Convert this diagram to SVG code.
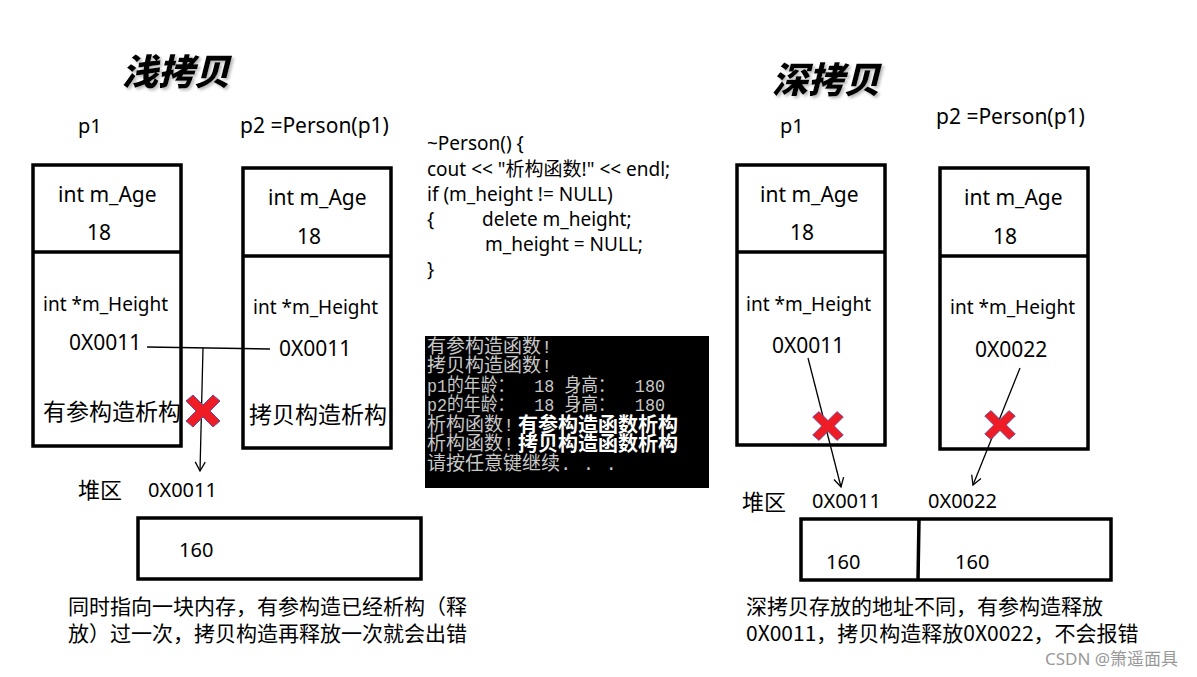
<svg xmlns="http://www.w3.org/2000/svg" width="1197" height="677" viewBox="0 0 1197 677">
<defs>
<style>
.t{font-family:"Noto Sans","Noto Sans CJK SC",sans-serif;fill:#000}
.c{font-family:"Noto Sans CJK SC","Noto Sans",sans-serif;fill:#000}
.box{fill:#fff;stroke:#000;stroke-width:3.5}
.div{stroke:#000;stroke-width:3.5}
.title{font-family:"Noto Sans CJK SC",sans-serif;font-weight:900;font-style:italic;font-size:36px;fill:#000}
.con{font-family:"Liberation Mono","Noto Sans CJK SC",monospace;font-size:19px;fill:#c8c8c8}
.ov{font-family:"Noto Sans CJK SC",sans-serif;font-size:20px;font-weight:700;fill:#fff}
.ln{stroke:#000;stroke-width:1.3;fill:none}
.x{fill:#ee1c25;stroke:#6a4c9c;stroke-width:1}
</style>
<marker id="arr" markerWidth="12" markerHeight="12" refX="10" refY="6" orient="auto" markerUnits="userSpaceOnUse">
<path d="M1,1 L10,6 L1,11" fill="none" stroke="#000" stroke-width="1.3"/>
</marker>
<filter id="sh" x="-10%" y="-10%" width="130%" height="140%">
<feDropShadow dx="2" dy="2" stdDeviation="1.5" flood-color="#888" flood-opacity="0.6"/>
</filter>
<path id="xs" d="M-17,-10 L-10,-16 L0,-6 L10,-16 L17,-10 L7,0 L17,10 L10,16 L0,6 L-10,16 L-17,10 L-7,0 Z"/>
</defs>
<rect width="1197" height="677" fill="#fff"/>

<!-- Shallow copy -->
<g id="title-shallow"><text class="title" x="122" y="85" filter="url(#sh)">浅拷贝</text></g>

<g id="p1-shallow">
<text class="t" x="78" y="133" font-size="20">p1</text>
<rect class="box" x="33" y="165" width="148" height="281"/>
<line class="div" x1="33" y1="252" x2="181" y2="252"/>
<text class="t" x="58" y="202" font-size="21">int m_Age</text>
<text class="t" x="87" y="240" font-size="21">18</text>
<text class="t" x="43" y="311" font-size="19">int *m_Height</text>
<text class="t" x="69" y="350" font-size="21">0X0011</text>
<text class="c" x="43" y="420" font-size="23">有参构造析构</text>
</g>

<g id="p2-shallow">
<text class="t" x="240" y="133" font-size="21">p2 =Person(p1)</text>
<rect class="box" x="243" y="168" width="148" height="280"/>
<line class="div" x1="243" y1="256" x2="391" y2="256"/>
<text class="t" x="268" y="205" font-size="21">int m_Age</text>
<text class="t" x="297" y="244" font-size="21">18</text>
<text class="t" x="253" y="314" font-size="19">int *m_Height</text>
<text class="t" x="279" y="356" font-size="21">0X0011</text>
<text class="c" x="249" y="423" font-size="23">拷贝构造析构</text>
</g>

<g id="heap-shallow">
<text class="c" x="78" y="498" font-size="22">堆区</text>
<text class="t" x="148" y="497" font-size="20">0X0011</text>
<rect class="box" x="138" y="518" width="283" height="61"/>
<text class="t" x="179" y="557" font-size="20">160</text>
</g>

<g id="note-shallow">
<text class="c" x="68" y="614" font-size="21">同时指向一块内存，有参构造已经析构（释</text>
<text class="c" x="68" y="641" font-size="21">放）过一次，拷贝构造再释放一次就会出错</text>
</g>

<!-- Code & console -->
<g id="code">
<text class="t" x="427" y="150" font-size="19">~Person() {</text>
<text class="t" x="427" y="176" font-size="19">cout &lt;&lt; "析构函数!" &lt;&lt; endl;</text>
<text class="t" x="427" y="201" font-size="19">if (m_height != NULL)</text>
<text class="t" x="427" y="226" font-size="19">{</text>
<text class="t" x="482" y="226" font-size="19">delete m_height;</text>
<text class="t" x="485" y="251" font-size="19">m_height = NULL;</text>
<text class="t" x="427" y="276" font-size="19">}</text>
</g>

<g id="console">
<rect x="425" y="336" width="284" height="152" fill="#000"/>
<text class="con" x="427" y="353">有参构造函数!</text>
<text class="con" x="427" y="372">拷贝构造函数!</text>
<text class="con" x="427" y="392" xml:space="preserve" textLength="238" lengthAdjust="spacingAndGlyphs">p1的年龄：  18 身高：  180</text>
<text class="con" x="427" y="411" xml:space="preserve" textLength="238" lengthAdjust="spacingAndGlyphs">p2的年龄：  18 身高：  180</text>
<text class="con" x="427" y="431">析构函数!</text>
<text class="con" x="427" y="450">析构函数!</text>
<text class="con" x="427" y="470">请按任意键继续. . .</text>
<text class="ov" x="518" y="432">有参构造函数析构</text>
<text class="ov" x="518" y="451">拷贝构造函数析构</text>
</g>

<!-- Deep copy -->
<g id="title-deep"><text class="title" x="772" y="93" filter="url(#sh)">深拷贝</text></g>

<g id="p1-deep">
<text class="t" x="780" y="133" font-size="20">p1</text>
<rect class="box" x="737" y="165" width="148" height="280"/>
<line class="div" x1="737" y1="252" x2="885" y2="252"/>
<text class="t" x="760" y="202" font-size="21">int m_Age</text>
<text class="t" x="790" y="240" font-size="21">18</text>
<text class="t" x="746" y="311" font-size="19">int *m_Height</text>
<text class="t" x="772" y="353" font-size="21">0X0011</text>
</g>

<g id="p2-deep">
<text class="t" x="936" y="124" font-size="21">p2 =Person(p1)</text>
<rect class="box" x="940" y="168" width="148" height="281"/>
<line class="div" x1="940" y1="256" x2="1088" y2="256"/>
<text class="t" x="964" y="205" font-size="21">int m_Age</text>
<text class="t" x="993" y="244" font-size="21">18</text>
<text class="t" x="950" y="314" font-size="19">int *m_Height</text>
<text class="t" x="975" y="357" font-size="21">0X0022</text>
</g>

<g id="heap-deep">
<text class="c" x="742" y="510" font-size="22">堆区</text>
<text class="t" x="812" y="508" font-size="20">0X0011</text>
<text class="t" x="928" y="508" font-size="20">0X0022</text>
<rect class="box" x="801" y="519" width="310" height="61"/>
<line class="div" x1="919" y1="519" x2="918" y2="580"/>
<text class="t" x="826" y="569" font-size="20">160</text>
<text class="t" x="955" y="569" font-size="20">160</text>
</g>

<g id="note-deep">
<text class="c" x="746" y="614" font-size="21">深拷贝存放的地址不同，有参构造释放</text>
<text class="c" x="746" y="641" font-size="21">0X0011，拷贝构造释放0X0022，不会报错</text>
</g>

<g id="connectors">
<line class="ln" x1="147" y1="347" x2="270" y2="349"/>
<line class="ln" x1="203" y1="348" x2="200" y2="471" marker-end="url(#arr)"/>
<line class="ln" x1="808" y1="358" x2="841" y2="487" marker-end="url(#arr)"/>
<line class="ln" x1="1020" y1="368" x2="973" y2="485" marker-end="url(#arr)"/>
</g>

<g id="marks">
<use href="#xs" class="x" transform="translate(203,411)"/>
<use href="#xs" class="x" transform="translate(828,426) scale(0.9)"/>
<use href="#xs" class="x" transform="translate(1000,425) scale(0.9)"/>
</g>

<g id="watermark">
<text x="1045" y="665" font-family="Noto Sans,Noto Sans CJK SC,sans-serif" font-size="17" fill="#999">CSDN @箫遥面具</text>
</g>
</svg>
